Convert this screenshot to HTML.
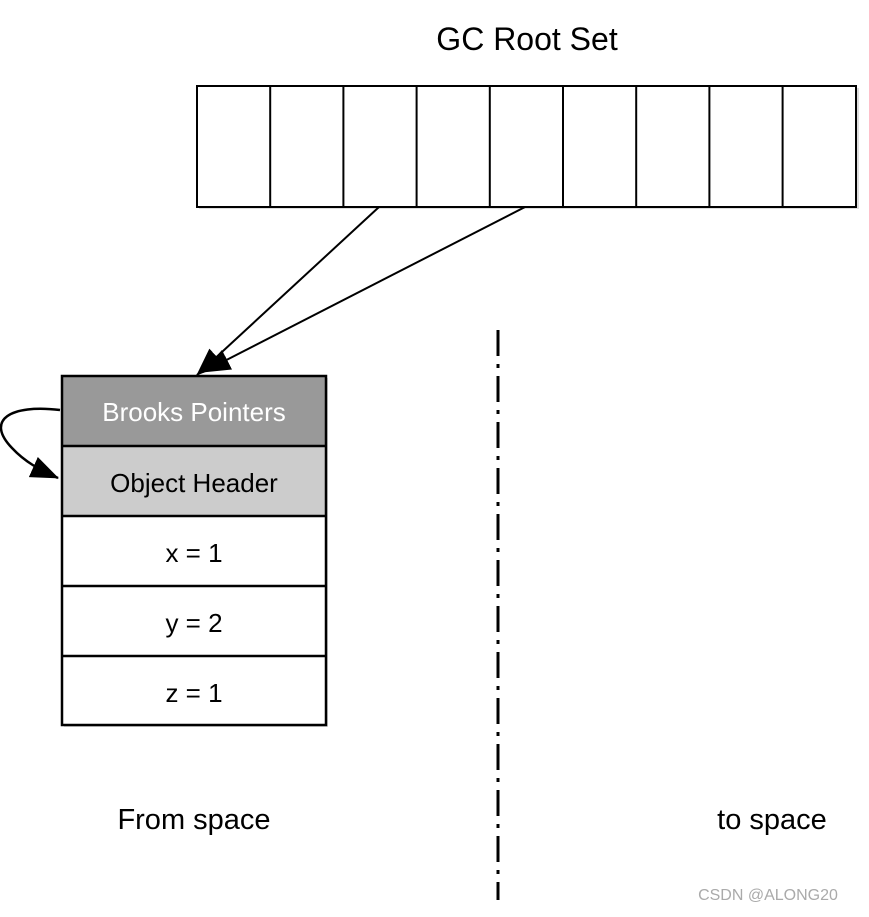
<!DOCTYPE html>
<html><head><style>
body{margin:0;background:#fff;width:869px;height:912px;overflow:hidden;font-family:"Liberation Sans",Arial,sans-serif}
</style></head><body>
<svg width="869" height="912" viewBox="0 0 869 912" xmlns="http://www.w3.org/2000/svg">
<defs>
<marker id="ah" markerWidth="10" markerHeight="10" refX="9" refY="5" orient="auto" markerUnits="userSpaceOnUse" viewBox="0 0 10 10">
<path d="M0,0 L10,5 L0,10 z" fill="#000"/>
</marker>
<marker id="ah2" markerWidth="28" markerHeight="22" refX="27" refY="11" orient="auto" markerUnits="userSpaceOnUse" viewBox="0 0 28 22">
<path d="M0,0 L28,11 L0,22 z" fill="#000"/>
</marker>
</defs>
<text x="527" y="50" font-size="32" text-anchor="middle" fill="#000">GC Root Set</text>
<rect x="199" y="88" width="660" height="121" fill="#bbb" opacity="0.5"/>
<rect x="197" y="86" width="659" height="121" fill="#fff" stroke="#000" stroke-width="2"/>
<g stroke="#000" stroke-width="2">
<line x1="270.2" y1="86" x2="270.2" y2="207"/>
<line x1="343.4" y1="86" x2="343.4" y2="207"/>
<line x1="416.6" y1="86" x2="416.6" y2="207"/>
<line x1="489.8" y1="86" x2="489.8" y2="207"/>
<line x1="563" y1="86" x2="563" y2="207"/>
<line x1="636.2" y1="86" x2="636.2" y2="207"/>
<line x1="709.4" y1="86" x2="709.4" y2="207"/>
<line x1="782.6" y1="86" x2="782.6" y2="207"/>
</g>
<line x1="379" y1="207" x2="197" y2="375" stroke="#000" stroke-width="2" marker-end="url(#ah2)"/>
<line x1="525" y1="207" x2="203" y2="372" stroke="#000" stroke-width="2" marker-end="url(#ah2)"/>
<rect x="64" y="378" width="264" height="349" fill="#bbb" opacity="0.5"/>
<rect x="62" y="376" width="264" height="70" fill="#999"/>
<rect x="62" y="446" width="264" height="70" fill="#ccc"/>
<rect x="62" y="516" width="264" height="209" fill="#fff"/>
<rect x="62" y="376" width="264" height="349" fill="none" stroke="#000" stroke-width="2.5"/>
<g stroke="#000" stroke-width="2.5">
<line x1="62" y1="446" x2="326" y2="446"/>
<line x1="62" y1="516" x2="326" y2="516"/>
<line x1="62" y1="586" x2="326" y2="586"/>
<line x1="62" y1="656" x2="326" y2="656"/>
</g>
<g font-size="26" text-anchor="middle">
<text x="194" y="421" fill="#fff">Brooks Pointers</text>
<text x="194" y="492" fill="#000">Object Header</text>
<text x="194" y="562" fill="#000">x = 1</text>
<text x="194" y="632" fill="#000">y = 2</text>
<text x="194" y="702" fill="#000">z = 1</text>
</g>
<path d="M60,410 C10,404 -15,420 12,448 C25,462 40,470 58,478" fill="none" stroke="#000" stroke-width="2.5" marker-end="url(#ah2)"/>
<line x1="498" y1="330" x2="498" y2="900" stroke="#000" stroke-width="3" stroke-dasharray="26,8,4,8"/>
<text x="194" y="829" font-size="29" text-anchor="middle" fill="#000">From space</text>
<text x="772" y="829" font-size="29" text-anchor="middle" fill="#000">to space</text>
<text x="768" y="900" font-size="16" text-anchor="middle" fill="#aaa">CSDN @ALONG20</text>
</svg>
</body></html>
